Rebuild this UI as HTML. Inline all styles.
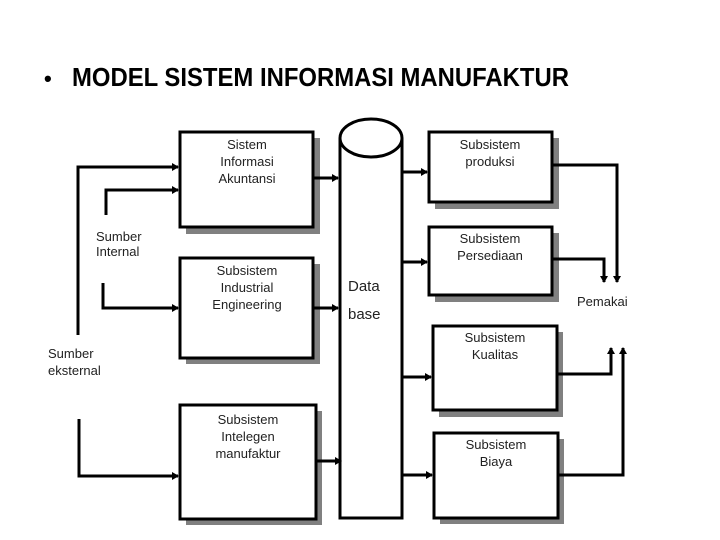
<!DOCTYPE html>
<html><head><meta charset="utf-8"><style>
html,body{margin:0;padding:0;background:#fff;width:720px;height:540px;overflow:hidden}
svg{display:block}
text{font-family:"Liberation Sans",Arial,sans-serif}
.b{font-size:13px;fill:#222;text-anchor:middle}
.l{font-size:13px;fill:#222}
</style></head><body>
<svg width="720" height="540" viewBox="0 0 720 540" xmlns="http://www.w3.org/2000/svg">
<defs>
<marker id="a" markerWidth="8" markerHeight="8" refX="6" refY="4" orient="auto" markerUnits="userSpaceOnUse">
<path d="M0,0 L7,4 L0,8 Z" fill="#000"/></marker>
</defs>
<text x="44" y="86" font-size="22" font-weight="bold">•</text>
<text x="72" y="86" font-size="26" font-weight="bold" textLength="497" lengthAdjust="spacingAndGlyphs">MODEL SISTEM INFORMASI MANUFAKTUR</text>

<g fill="#808080">
<rect x="186" y="138" width="134" height="96"/>
<rect x="186" y="264" width="134" height="100"/>
<rect x="186" y="411" width="136" height="114"/>
<rect x="435" y="138" width="124" height="71"/>
<rect x="435" y="233" width="124" height="69"/>
<rect x="439" y="332" width="124" height="85"/>
<rect x="440" y="439" width="124" height="85"/>
</g>
<g fill="#fff" stroke="#000" stroke-width="3">
<rect x="180" y="132" width="133" height="95"/>
<rect x="180" y="258" width="133" height="100"/>
<rect x="180" y="405" width="136" height="114"/>
<rect x="429" y="132" width="123" height="70"/>
<rect x="429" y="227" width="123" height="68"/>
<rect x="433" y="326" width="124" height="84"/>
<rect x="434" y="433" width="124" height="85"/>
</g>

<g fill="none" stroke="#000" stroke-width="3">
<path d="M340,138 L340,518 L402,518 L402,138"/>
<ellipse cx="371" cy="138" rx="31" ry="19" fill="#fff"/>
</g>

<g fill="none" stroke="#000" stroke-width="3" marker-end="url(#a)">
<path d="M78,335 L78,167 L178,167"/>
<path d="M106,215 L106,190 L178,190"/>
<path d="M103,283 L103,308 L178,308"/>
<path d="M79,419 L79,476 L178,476"/>
<path d="M313,178 L338,178"/>
<path d="M313,308 L338,308"/>
<path d="M316,461 L341,461"/>
<path d="M402,172 L427,172"/>
<path d="M402,262 L427,262"/>
<path d="M402,377 L431,377"/>
<path d="M402,475 L432,475"/>
<path d="M552,165 L617,165 L617,282"/>
<path d="M552,259 L604,259 L604,282"/>
<path d="M557,374 L611,374 L611,348"/>
<path d="M558,475 L623,475 L623,348"/>
</g>

<g class="b">
<text x="247" y="149">Sistem</text><text x="247" y="166">Informasi</text><text x="247" y="183">Akuntansi</text>
<text x="247" y="275">Subsistem</text><text x="247" y="292">Industrial</text><text x="247" y="309">Engineering</text>
<text x="248" y="424">Subsistem</text><text x="248" y="441">Intelegen</text><text x="248" y="458">manufaktur</text>
<text x="490" y="149">Subsistem</text><text x="490" y="166">produksi</text>
<text x="490" y="243">Subsistem</text><text x="490" y="260">Persediaan</text>
<text x="495" y="342">Subsistem</text><text x="495" y="359">Kualitas</text>
<text x="496" y="432" dy="0"></text>
<text x="496" y="433" dy="0"></text>
<text x="496" y="432" dy="-1"></text>
<text x="496" y="432" dy="0"></text>
<text x="496" y="432" dy="0"></text>
<text x="496" y="432" dy="17">Subsistem</text><text x="496" y="432" dy="34">Biaya</text>
</g>
<g class="l">
<text x="96" y="241">Sumber</text><text x="96" y="256">Internal</text>
<text x="48" y="358">Sumber</text><text x="48" y="375">eksternal</text>
<text x="348" y="291" font-size="15">Data</text>
<text x="348" y="319" font-size="15">base</text>
<text x="577" y="306">Pemakai</text>
</g>
</svg>
</body></html>
